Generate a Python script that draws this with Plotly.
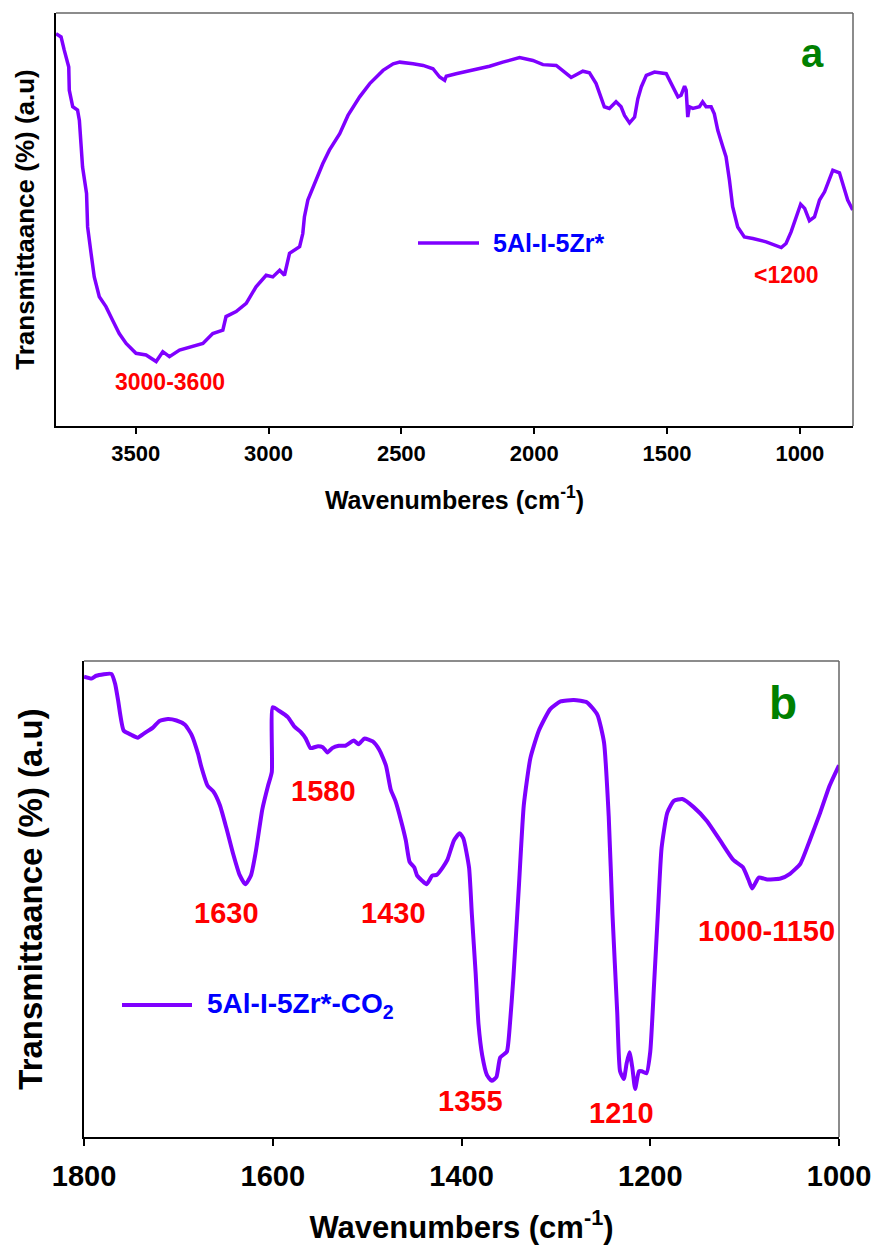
import plotly.graph_objects as go

W, H = 873, 1255

# ---------------- Panel a data (5Al-I-5Zr*) ----------------
wn_a = [3800, 3781, 3769, 3752, 3750, 3737, 3719, 3712, 3706, 3700, 3685, 3681, 3668, 3656,
        3637, 3612, 3587, 3562, 3536, 3499, 3461, 3423, 3398, 3373, 3335, 3285, 3247, 3210,
        3172, 3160, 3122, 3084, 3047, 3009, 2984, 2958, 2940, 2921, 2883, 2871, 2865, 2852,
        2827, 2796, 2771, 2732, 2701, 2657, 2619, 2569, 2531, 2506, 2456, 2418, 2381, 2356,
        2337, 2331, 2294, 2256, 2218, 2168, 2118, 2055, 2005, 1967, 1917, 1880, 1861, 1817,
        1792, 1767, 1748, 1736, 1717, 1692, 1673, 1660, 1641, 1622, 1610, 1597, 1578, 1547,
        1503, 1478, 1459, 1447, 1434, 1428, 1422, 1416, 1403, 1378, 1366, 1353, 1334, 1322,
        1309, 1290, 1278, 1265, 1253, 1234, 1209, 1177, 1127, 1070, 1052, 1033, 1014, 997,
        982, 964, 945, 926, 907, 876, 851, 820, 801]
t_a = [95.0, 94.2, 91.0, 86.9, 81.3, 77.3, 76.5, 74.0, 68.4, 62.7, 56.3, 48.2, 41.8, 36.1,
       31.3, 28.9, 25.6, 22.4, 20.0, 17.6, 17.2, 15.6, 18.0, 16.8, 18.4, 19.2, 20.0, 22.4,
       23.2, 26.5, 27.7, 29.7, 33.7, 36.5, 36.1, 37.7, 36.5, 41.8, 43.4, 46.6, 50.6, 54.7,
       58.7, 63.5, 66.8, 70.8, 75.2, 79.7, 82.9, 86.1, 87.7, 88.1, 87.7, 87.3, 86.5, 84.5,
       83.7, 84.7, 85.3, 85.8, 86.5, 87.1, 88.1, 89.2, 88.5, 87.5, 87.3, 85.3, 84.4, 85.9,
       85.5, 82.9, 79.7, 77.3, 76.9, 78.5, 77.3, 75.2, 73.4, 74.8, 79.2, 82.1, 84.9, 85.7,
       85.3, 82.1, 79.7, 80.1, 82.3, 81.3, 74.8, 77.3, 76.9, 77.3, 78.5, 77.3, 77.3, 75.6,
       71.6, 67.6, 65.2, 59.5, 53.1, 48.2, 45.8, 45.4, 44.6, 43.2, 44.2, 47.0, 50.6, 53.7,
       52.7, 49.7, 50.6, 54.7, 56.7, 61.9, 61.3, 54.7, 52.3]

# ---------------- Panel b data (5Al-I-5Zr*-CO2) ----------------
wn_b = [1800, 1792, 1787, 1771, 1767, 1764, 1758, 1750, 1743, 1737, 1727, 1720, 1711, 1702,
        1693, 1686, 1679, 1676, 1669, 1663, 1656, 1649, 1642, 1635, 1629, 1623, 1618, 1611,
        1605, 1601, 1600, 1593, 1584, 1577, 1570, 1565, 1560, 1552, 1547, 1542, 1537, 1530,
        1523, 1514, 1509, 1503, 1494, 1487, 1480, 1475, 1470, 1464, 1459, 1455, 1450, 1447,
        1442, 1437, 1431, 1426, 1420, 1415, 1408, 1402, 1398, 1392, 1389, 1385, 1382, 1378,
        1373, 1368, 1363, 1359, 1352, 1349, 1345, 1339, 1334, 1327, 1318, 1306, 1295, 1281,
        1267, 1256, 1249, 1244, 1240, 1235, 1232, 1228, 1225, 1222, 1219, 1216, 1212, 1209,
        1204, 1200, 1196, 1192, 1188, 1182, 1175, 1166, 1154, 1140, 1126, 1112, 1102, 1096,
        1092, 1085, 1076, 1062, 1052, 1041, 1031, 1020, 1010, 1000]
t_b = [96.7, 96.3, 96.9, 97.3, 95.2, 91.9, 85.4, 84.5, 83.9, 84.7, 86.0, 87.4, 87.8, 87.5,
       86.6, 84.5, 80.4, 78.0, 73.8, 72.6, 69.7, 64.8, 59.5, 55.0, 53.1, 55.0, 59.9, 68.9,
       73.8, 76.7, 90.3, 89.5, 88.2, 86.2, 85.0, 83.7, 81.7, 82.1, 81.9, 80.8, 81.7, 82.2,
       82.2, 83.3, 82.5, 83.7, 83.1, 81.3, 78.0, 73.0, 70.6, 66.4, 62.3, 57.8, 56.6, 54.9,
       53.9, 53.1, 54.9, 55.1, 56.6, 58.2, 62.3, 63.8, 62.7, 56.6, 46.7, 34.4, 23.7, 17.1,
       13.0, 11.8, 12.6, 16.7, 17.9, 22.9, 33.6, 53.3, 69.7, 79.6, 85.4, 89.9, 91.5, 91.8,
       91.3, 88.7, 82.9, 67.3, 46.7, 26.2, 13.8, 12.2, 15.5, 17.8, 14.6, 10.1, 13.8, 13.8,
       13.4, 17.9, 31.9, 46.7, 60.7, 68.1, 70.6, 71.0, 69.3, 66.4, 62.3, 58.2, 56.7, 54.1,
       52.2, 54.5, 54.1, 54.3, 55.3, 57.4, 62.3, 68.1, 73.8, 78.1]

ticks_a = [3500, 3000, 2500, 2000, 1500, 1000]
ticks_b = [1800, 1600, 1400, 1200, 1000]

LINE = "#7f00ff"
FONT = "Liberation Sans, Arial, sans-serif"


def px(x):
    return x / W


def py(y):
    return 1 - y / H


fig = go.Figure()
fig.add_trace(go.Scatter(x=wn_a, y=t_a, mode="lines", name="5Al-I-5Zr*",
                         line=dict(color=LINE, width=3.5), xaxis="x", yaxis="y",
                         showlegend=False))
fig.add_trace(go.Scatter(x=wn_b, y=t_b, mode="lines", name="5Al-I-5Zr*-CO2",
                         line=dict(color=LINE, width=4, shape="spline", smoothing=0.5),
                         xaxis="x2", yaxis="y2", showlegend=False))

axis_common = dict(showline=True, linecolor="black", linewidth=1.5, ticks="outside",
                   tickcolor="black", tickwidth=1.5, showgrid=False, zeroline=False,
                   mirror=False, automargin=False)
yaxis_common = dict(showticklabels=False, ticks="", showline=True, linecolor="black",
                    linewidth=1.5, showgrid=False, zeroline=False, automargin=False)

fig.update_layout(
    width=W, height=H, margin=dict(l=0, r=0, t=0, b=0),
    paper_bgcolor="white", plot_bgcolor="white",
    font=dict(family=FONT, color="black"),
    xaxis=dict(domain=[px(56), px(853)], range=[3800, 800], anchor="y",
               tickvals=ticks_a, ticklen=6, ticklabelstandoff=1,
               tickfont=dict(size=22, family=FONT, weight="bold"),
               title=dict(text="Wavenumberes (cm<sup>-1</sup>)", standoff=26,
                          font=dict(size=25, family=FONT, weight="bold")),
               **axis_common),
    yaxis=dict(domain=[py(426), py(13)], range=[0, 100], anchor="x",
               title=dict(text="Transmittaance (%) (a.u)", standoff=12,
                          font=dict(size=26, family=FONT, weight="bold")),
               **yaxis_common),
    xaxis2=dict(domain=[px(84), px(839)], range=[1800, 1000], anchor="y2",
                tickvals=ticks_b, ticklen=7, ticklabelstandoff=5,
                tickfont=dict(size=29, family=FONT, weight="bold"),
                title=dict(text="Wavenumbers (cm<sup>-1</sup>)", standoff=26,
                           font=dict(size=31, family=FONT, weight="bold")),
                **axis_common),
    yaxis2=dict(domain=[py(1137), py(661)], range=[0, 100], anchor="x2",
                title=dict(text="Transmittaance (%) (a.u)", standoff=30,
                           font=dict(size=33, family=FONT, weight="bold")),
                **yaxis_common),
)

# grey top / right frame lines
GREY = "#666666"
for (x0, x1, y0, y1) in [(56, 853, 13, 13), (853, 853, 13, 426),
                         (84, 839, 661, 661), (839, 839, 661, 1137)]:
    fig.add_shape(type="line", xref="paper", yref="paper",
                  x0=px(x0), x1=px(x1), y0=py(y0), y1=py(y1),
                  line=dict(color=GREY, width=1.5))

# legend lines
fig.add_shape(type="line", xref="paper", yref="paper", x0=px(418), x1=px(479),
              y0=py(243), y1=py(243), line=dict(color=LINE, width=3.5))
fig.add_shape(type="line", xref="paper", yref="paper", x0=px(122), x1=px(192),
              y0=py(1005), y1=py(1005), line=dict(color=LINE, width=4))


def ann(text, x, y, size, color, xanchor="center"):
    fig.add_annotation(text=text, x=px(x), y=py(y), xref="paper", yref="paper",
                       showarrow=False, xanchor=xanchor, yanchor="middle",
                       font=dict(size=size, color=color, family=FONT, weight="bold"))


RED = "#ff0000"
GREEN = "#008000"
BLUE = "#0000ff"

ann("5Al-I-5Zr*", 491, 243, 25, BLUE, xanchor="left")
ann("3000-3600", 170, 382, 23, RED)
ann("&lt;1200", 786, 275, 23, RED)
ann("a", 812, 53, 40, GREEN)

ann("5Al-I-5Zr*-CO<sub>2</sub>", 205, 1005, 28, BLUE, xanchor="left")
ann("1630", 226, 913, 29, RED)
ann("1580", 323, 791, 29, RED)
ann("1430", 393, 913, 29, RED)
ann("1355", 470, 1101, 29, RED)
ann("1210", 621, 1113, 29, RED)
ann("1000-1150", 766, 931, 29, RED)
ann("b", 783, 703, 46, GREEN)

fig.write_html("out.html")
